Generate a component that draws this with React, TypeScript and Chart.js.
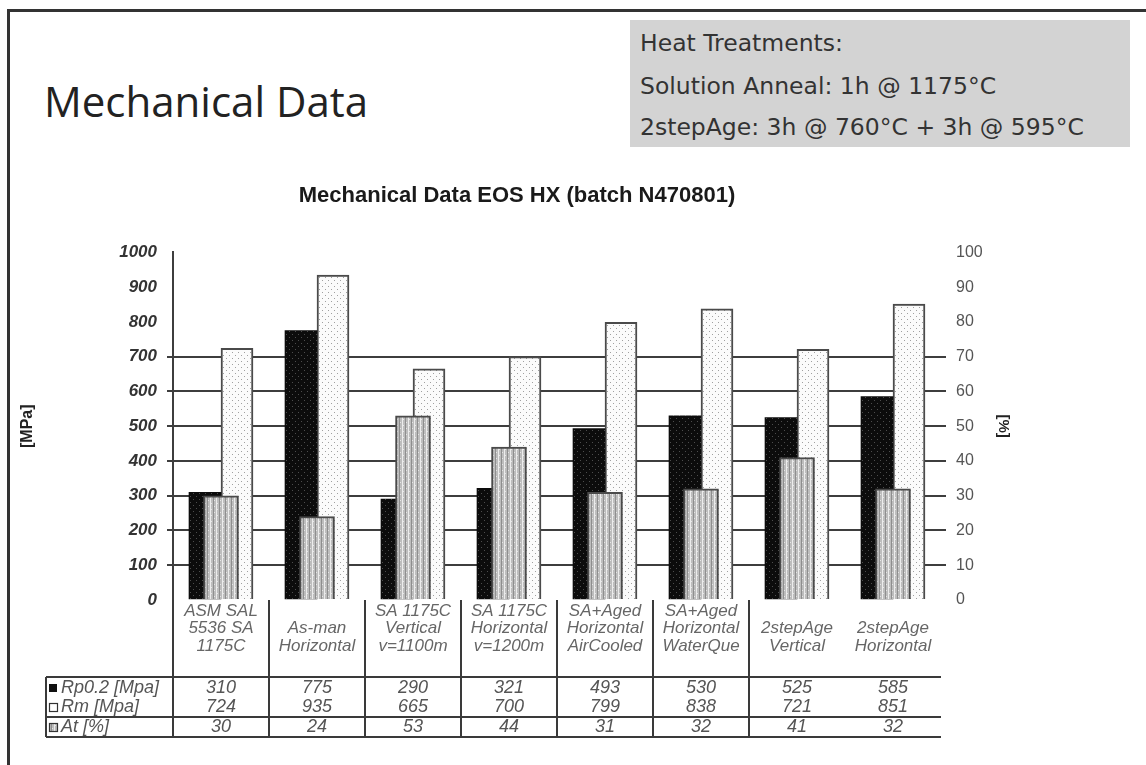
import React, { useEffect, useRef } from "react";
import { Chart, registerables } from "chart.js";

Chart.register(...registerables);

// ---------- data ----------
const categories: string[][] = [
  ["ASM SAL", "5536 SA", "1175C"],
  ["As-man", "Horizontal"],
  ["SA 1175C", "Vertical", "v=1100m"],
  ["SA 1175C", "Horizontal", "v=1200m"],
  ["SA+Aged", "Horizontal", "AirCooled"],
  ["SA+Aged", "Horizontal", "WaterQue"],
  ["2stepAge", "Vertical"],
  ["2stepAge", "Horizontal"],
];
const rp02 = [310, 775, 290, 321, 493, 530, 525, 585];
const rm = [724, 935, 665, 700, 799, 838, 721, 851];
const at = [30, 24, 53, 44, 31, 32, 41, 32];
const seriesLabels = ["Rp0.2 [Mpa]", "Rm [Mpa]", "At [%]"];
const chartTitle = "Mechanical Data EOS HX (batch N470801)";
const leftAxisTitle = "[MPa]";
const rightAxisTitle = "[%]";
const heading = "Mechanical Data";
const heatLines = [
  "Heat Treatments:",
  "Solution Anneal: 1h @ 1175°C",
  "2stepAge: 3h @ 760°C + 3h @ 595°C",
];

const CANVAS_LEFT = 12;
const CANVAS_TOP = 168;
const CANVAS_W = 1010;
const CANVAS_H = 597;

function makePattern(bg: string, draw: (g: CanvasRenderingContext2D) => void, size = 6) {
  const c = document.createElement("canvas");
  c.width = size;
  c.height = size;
  const g = c.getContext("2d")!;
  g.fillStyle = bg;
  g.fillRect(0, 0, size, size);
  draw(g);
  return g.createPattern(c, "repeat")!;
}

export default function App() {
  const ref = useRef<HTMLCanvasElement | null>(null);

  useEffect(() => {
    if (!ref.current) return;

    const rpPat = makePattern("#0c0c0c", (g) => {
      g.fillStyle = "#4d4d4d";
      g.fillRect(1, 1, 1, 1);
      g.fillRect(4, 4, 1, 1);
    });
    const rmPat = makePattern("#fbfbfb", (g) => {
      g.fillStyle = "#a0a0a0";
      g.fillRect(1, 1, 1, 1);
      g.fillRect(4, 4, 1, 1);
    });
    const atPat = makePattern("#bdbdbd", (g) => {
      g.fillStyle = "#ececec";
      g.fillRect(0, 0, 1, 6);
      g.fillStyle = "#8e8e8e";
      g.fillRect(3, 0, 1, 6);
      g.fillStyle = "#e6e6e6";
      g.fillRect(1, 5, 1, 1);
      g.fillRect(4, 2, 1, 1);
    });

    const tablePlugin = {
      id: "dataTable",
      afterDraw(chart: any) {
        const { ctx, chartArea, scales } = chart;
        const x = scales.x;
        const n = categories.length;
        const step = x.getPixelForValue(1) - x.getPixelForValue(0);
        const bottom = chartArea.bottom;
        const rowTop = bottom + 77;
        const rowMid = bottom + 117;
        const tableBottom = bottom + 137;
        const tableLeft = 46 - CANVAS_LEFT;
        const tableRight = x.getPixelForValue(n - 1) + step / 2;
        ctx.save();
        ctx.strokeStyle = "#3a3a3a";
        ctx.lineWidth = 2;
        // vertical separators (left edges of first seven columns)
        for (let i = 0; i < n - 1; i++) {
          const xe = Math.round(x.getPixelForValue(i) - step / 2);
          ctx.beginPath();
          ctx.moveTo(xe, bottom);
          ctx.lineTo(xe, tableBottom);
          ctx.stroke();
        }
        // table outline
        ctx.beginPath();
        ctx.moveTo(tableLeft, rowTop);
        ctx.lineTo(tableLeft, tableBottom);
        ctx.moveTo(tableLeft, rowTop);
        ctx.lineTo(tableRight, rowTop);
        ctx.moveTo(tableLeft, rowMid);
        ctx.lineTo(tableRight, rowMid);
        ctx.moveTo(tableLeft, tableBottom);
        ctx.lineTo(tableRight, tableBottom);
        ctx.stroke();

        const rowsY = [rowTop + 11, rowTop + 30, rowMid + 10];
        const rows = [rp02, rm, at];
        ctx.font = "italic 18px 'Liberation Sans', Arial, sans-serif";
        ctx.fillStyle = "#555";
        ctx.textBaseline = "middle";
        // legend keys + row labels
        const keyX = tableLeft + 3;
        rows.forEach((_, r) => {
          const y = rowsY[r];
          ctx.lineWidth = 1.2;
          if (r === 0) {
            ctx.fillStyle = "#111";
            ctx.fillRect(keyX, y - 4, 8, 8);
          } else if (r === 1) {
            ctx.fillStyle = "#fff";
            ctx.fillRect(keyX, y - 4, 8, 8);
            ctx.strokeStyle = "#333";
            ctx.strokeRect(keyX + 0.5, y - 3.5, 8, 8);
          } else {
            ctx.fillStyle = atPat;
            ctx.fillRect(keyX, y - 4, 8, 8);
            ctx.strokeStyle = "#333";
            ctx.strokeRect(keyX + 0.5, y - 3.5, 8, 8);
          }
          ctx.fillStyle = "#555";
          ctx.textAlign = "left";
          ctx.fillText(seriesLabels[r], keyX + 12, y);
          ctx.textAlign = "center";
          rows[r].forEach((v, i) => {
            ctx.fillText(String(v), x.getPixelForValue(i), y);
          });
        });
        ctx.restore();
      },
    };

    const chart = new Chart(ref.current, {
      type: "bar",
      data: {
        labels: categories,
        datasets: [
          {
            label: seriesLabels[0],
            data: rp02,
            yAxisID: "y",
            backgroundColor: rpPat,
            borderWidth: 0,
            barThickness: 32,
            order: 2,
          },
          {
            label: seriesLabels[1],
            data: rm,
            yAxisID: "y",
            backgroundColor: rmPat,
            borderColor: "#4a4a4a",
            borderWidth: 2,
            barThickness: 32,
            order: 2,
          },
          {
            label: seriesLabels[2],
            data: at,
            yAxisID: "y1",
            backgroundColor: atPat,
            borderColor: "#4a4a4a",
            borderWidth: 2,
            barThickness: 35,
            grouped: false,
            order: 1,
          },
        ] as any,
      },
      options: {
        responsive: false,
        animation: false,
        layout: { padding: 0 },
        plugins: {
          legend: { display: false },
          tooltip: { enabled: false },
          title: {
            display: true,
            text: chartTitle,
            color: "#1a1a1a",
            font: { family: "'Liberation Sans', Arial, sans-serif", size: 22, weight: "bold" },
            padding: { top: 15, bottom: 43 },
          },
        },
        scales: {
          x: {
            grid: { display: false, drawTicks: false },
            border: { display: false },
            ticks: {
              autoSkip: false,
              maxRotation: 0,
              minRotation: 0,
              padding: 11,
              crossAlign: "far",
              color: "#666",
              font: { family: "'Liberation Sans', Arial, sans-serif", size: 17, style: "italic", lineHeight: 1.03 },
            },
            afterFit: (s: any) => {
              s.height = 165;
            },
          },
          y: {
            position: "left",
            min: 0,
            max: 1000,
            ticks: {
              stepSize: 100,
              padding: 10,
              color: "#333",
              callback: (v: any) => String(v),
              font: { family: "'Liberation Sans', Arial, sans-serif", size: 17, style: "italic", weight: "bold" },
            },
            grid: {
              color: (c: any) =>
                c.tick && c.tick.value > 0 && c.tick.value <= 700 ? "#3e3e3e" : "rgba(0,0,0,0)",
              lineWidth: 2,
              tickLength: 6,
            },
            border: { display: true, color: "#3e3e3e", width: 2 },
            title: {
              display: true,
              text: leftAxisTitle,
              color: "#222",
              font: { family: "'Liberation Sans', Arial, sans-serif", size: 16, weight: "bold" },
              padding: { top: 6, bottom: 0 },
            },
            afterFit: (s: any) => {
              s.width = 161;
            },
          },
          y1: {
            position: "right",
            min: 0,
            max: 100,
            ticks: {
              stepSize: 10,
              padding: 10,
              color: "#555",
              callback: (v: any) => String(v),
              font: { family: "'Liberation Sans', Arial, sans-serif", size: 16 },
            },
            grid: {
              drawOnChartArea: false,
              color: (c: any) =>
                c.tick && c.tick.value > 0 && c.tick.value <= 70 ? "#3e3e3e" : "rgba(0,0,0,0)",
              lineWidth: 2,
              tickLength: 5,
            },
            border: { display: false },
            title: {
              display: true,
              text: rightAxisTitle,
              color: "#222",
              font: { family: "'Liberation Sans', Arial, sans-serif", size: 15, weight: "bold" },
              padding: { top: 10, bottom: 0 },
            },
            afterFit: (s: any) => {
              s.width = 81;
            },
          },
        },
      } as any,
      plugins: [tablePlugin],
    });
    return () => chart.destroy();
  }, []);

  return (
    <div
      style={{
        position: "fixed",
        left: 0,
        top: 0,
        width: 1146,
        height: 765,
        background: "#fff",
        overflow: "hidden",
      }}
    >
      <div style={{ position: "absolute", left: 7, top: 9, width: 1139, height: 3, background: "#333" }} />
      <div style={{ position: "absolute", left: 7, top: 9, width: 3, height: 756, background: "#333" }} />
      <div
        style={{
          position: "absolute",
          left: 44,
          top: 78,
          fontFamily: "'Open Sans', sans-serif",
          fontSize: 42,
          lineHeight: "46px",
          color: "#222",
          whiteSpace: "nowrap",
        }}
      >
        {heading}
      </div>
      <div
        style={{
          position: "absolute",
          left: 630,
          top: 20,
          width: 500,
          height: 127,
          background: "#d3d3d3",
        }}
      >
        {heatLines.map((t, i) => (
          <div
            key={i}
            style={{
              position: "absolute",
              left: 10,
              top: [10, 53, 94][i],
              fontFamily: "'DejaVu Sans', sans-serif",
              fontSize: 23.5,
              lineHeight: "26px",
              color: "#333",
              whiteSpace: "nowrap",
            }}
          >
            {t}
          </div>
        ))}
      </div>
      <canvas
        ref={ref}
        width={CANVAS_W}
        height={CANVAS_H}
        style={{ position: "absolute", left: CANVAS_LEFT, top: CANVAS_TOP, width: CANVAS_W, height: CANVAS_H }}
      />
    </div>
  );
}
